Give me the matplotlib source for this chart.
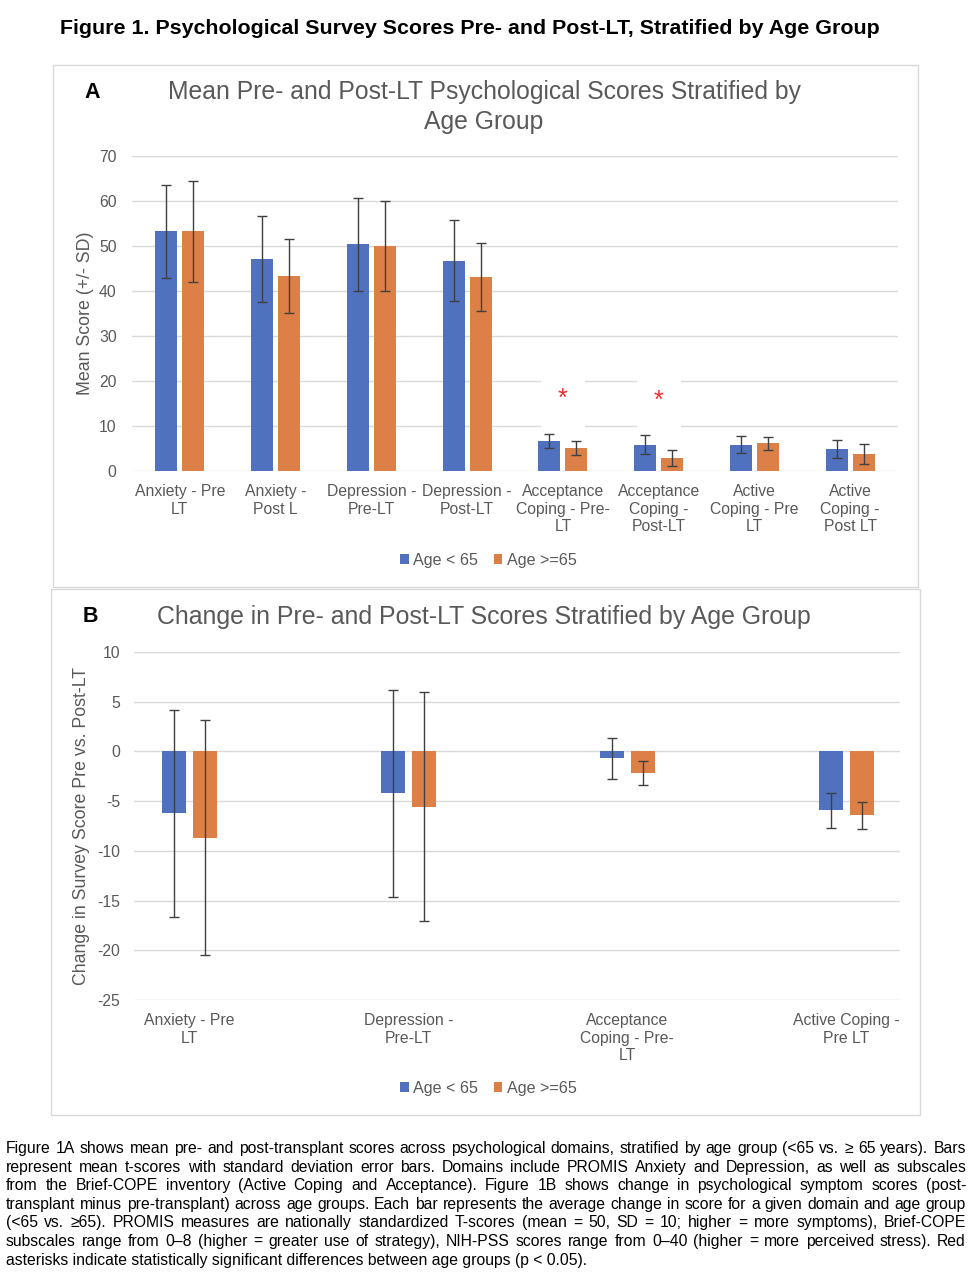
# recreate Figure 1: psychological scores by age group
import matplotlib
matplotlib.use('Agg')
import matplotlib.pyplot as plt
from matplotlib.patches import Rectangle
from matplotlib import font_manager
import numpy as np

plt.rcParams['font.family'] = ['Liberation Sans', 'DejaVu Sans']
plt.rcParams['axes.unicode_minus'] = False

# Panel A data: mean score (+/- SD)
cats_a = ['Anxiety - Pre\nLT', 'Anxiety -\nPost L', 'Depression -\nPre-LT', 'Depression -\nPost-LT',
          'Acceptance\nCoping - Pre-\nLT', 'Acceptance\nCoping -\nPost-LT', 'Active\nCoping - Pre\nLT',
          'Active\nCoping -\nPost LT']
young_mean_a = [53.3, 47.1, 50.4, 46.7, 6.7, 5.8, 5.8, 4.9]
young_sd_a = [10.3, 9.5, 10.3, 9.0, 1.55, 2.1, 1.9, 2.0]
old_mean_a = [53.3, 43.3, 50.0, 43.1, 5.1, 2.9, 6.2, 3.8]
old_sd_a = [11.2, 8.2, 10.0, 7.5, 1.65, 1.8, 1.45, 2.3]

# significant differences (red asterisks)
sig_idx = [4, 5]
sig_y = [16.1, 15.6]

# Panel B data: change pre vs post
cats_b = ['Anxiety - Pre\nLT', 'Depression -\nPre-LT', 'Acceptance\nCoping - Pre-\nLT', 'Active Coping -\nPre LT']
young_chg_b = [-6.24, -4.23, -0.7, -5.94]
young_sd_b = [10.4, 10.4, 2.1, 1.8]
old_chg_b = [-8.66, -5.54, -2.2, -6.44]
old_sd_b = [11.8, 11.5, 1.2, 1.4]

series_names = ['Age < 65', 'Age >=65']

blue = '#4F71BE'
orange = '#DD8047'
gray_txt = '#595959'
grid_col = '#D9D9D9'
err_col = '#404040'

W, H = 976, 1278
fig = plt.figure(figsize=(W / 100, H / 100), dpi=100)


def fx(px):
    return px / W


def fy(py):
    return 1 - py / H


def style_axis(ax, ymin, ymax, step, pad):
    ax.set_ylim(ymin, ymax)
    ax.set_yticks(np.arange(ymin, ymax + step / 2, step))
    ax.yaxis.grid(True, color=grid_col, linewidth=1)
    ax.set_axisbelow(True)
    for s in ax.spines.values():
        s.set_visible(False)
    ax.tick_params(axis='both', length=0, labelsize=11.3, labelcolor=gray_txt)
    ax.tick_params(axis='y', pad=pad)
    ax.tick_params(axis='x', pad=9.5)


# panel borders
fig.add_artist(Rectangle((fx(53), fy(587)), fx(918) - fx(53), fy(65) - fy(587),
                         transform=fig.transFigure, fill=False, edgecolor=grid_col, linewidth=1))
fig.add_artist(Rectangle((fx(51), fy(1115)), fx(920) - fx(51), fy(589) - fy(1115),
                         transform=fig.transFigure, fill=False, edgecolor=grid_col, linewidth=1))

fig.text(fx(470), fy(28), 'Figure 1. Psychological Survey Scores Pre- and Post-LT, Stratified by Age Group',
         ha='center', va='center', fontsize=15.4, fontweight='bold')

# ---- Panel A ----
ax1 = fig.add_axes([fx(132), fy(471), fx(898) - fx(132), fy(156) - fy(471)])
x = np.arange(len(cats_a))
bw, off = 0.23, 0.141
ax1.bar(x - off, young_mean_a, bw, color=blue, label=series_names[0])
ax1.bar(x + off, old_mean_a, bw, color=orange, label=series_names[1])
ax1.errorbar(x - off, young_mean_a, yerr=young_sd_a, fmt='none', ecolor=err_col, elinewidth=1, capsize=3.5, capthick=1)
ax1.errorbar(x + off, old_mean_a, yerr=old_sd_a, fmt='none', ecolor=err_col, elinewidth=1, capsize=3.5, capthick=1)
ax1.set_xlim(-0.5, len(cats_a) - 0.5)
ax1.set_xticks(x)
ax1.set_xticklabels(cats_a, linespacing=1.2)
style_axis(ax1, 0, 70, 10, 11)
ax1.set_ylabel('Mean Score (+/- SD)', fontsize=12.8, color=gray_txt)
ax1.yaxis.set_label_coords(-0.050, 0.5)
for i, yv in zip(sig_idx, sig_y):
    ax1.text(i, yv, '*', ha='center', va='center', fontsize=18, color='#EE2C2C', zorder=4,
             bbox=dict(boxstyle='square,pad=0.68', facecolor='white', edgecolor='none'))

fig.text(fx(484), fy(107), 'Mean Pre- and Post-LT Psychological Scores Stratified by\nAge Group',
         ha='center', va='center', fontsize=17.8, color=gray_txt, linespacing=1.3)
fig.text(fx(92), fy(93), 'A', ha='center', va='center', fontsize=15.5, fontweight='bold')
fig.legend(*ax1.get_legend_handles_labels(), loc='center', bbox_to_anchor=(fx(488), fy(560)), ncol=2,
           frameon=False, fontsize=11.6, labelcolor=gray_txt, handlelength=0.55, handleheight=0.55,
           handletextpad=0.25, columnspacing=1.0)

# ---- Panel B ----
ax2 = fig.add_axes([fx(134), fy(1000), fx(900) - fx(134), fy(652) - fy(1000)])
xb = np.arange(len(cats_b))
bw2, off2 = 0.11, 0.071
ax2.bar(xb - off2, young_chg_b, bw2, color=blue, label=series_names[0])
ax2.bar(xb + off2, old_chg_b, bw2, color=orange, label=series_names[1])
ax2.errorbar(xb - off2, young_chg_b, yerr=young_sd_b, fmt='none', ecolor=err_col, elinewidth=1, capsize=3.5, capthick=1)
ax2.errorbar(xb + off2, old_chg_b, yerr=old_sd_b, fmt='none', ecolor=err_col, elinewidth=1, capsize=3.5, capthick=1)
ax2.set_xlim(-0.253, 3.245)
ax2.set_xticks(xb)
ax2.set_xticklabels(cats_b, linespacing=1.2)
style_axis(ax2, -25, 10, 5, 10)
ax2.set_ylabel('Change in Survey Score Pre vs. Post-LT', fontsize=12.8, color=gray_txt)
ax2.yaxis.set_label_coords(-0.057, 0.5)

fig.text(fx(484), fy(617), 'Change in Pre- and Post-LT Scores Stratified by Age Group',
         ha='center', va='center', fontsize=17.9, color=gray_txt)
fig.text(fx(90), fy(616), 'B', ha='center', va='center', fontsize=15.5, fontweight='bold')
fig.legend(*ax2.get_legend_handles_labels(), loc='center', bbox_to_anchor=(fx(488), fy(1088)), ncol=2,
           frameon=False, fontsize=11.6, labelcolor=gray_txt, handlelength=0.55, handleheight=0.55,
           handletextpad=0.25, columnspacing=1.0)

# ---- caption, justified line by line ----
cap_lines = [
    'Figure 1A shows mean pre- and post-transplant scores across psychological domains, stratified by age group (<65 vs. \u2265 65 years). Bars',
    'represent mean t-scores with standard deviation error bars. Domains include PROMIS Anxiety and Depression, as well as subscales',
    'from the Brief-COPE inventory (Active Coping and Acceptance). Figure 1B shows change in psychological symptom scores (post-',
    'transplant minus pre-transplant) across age groups. Each bar represents the average change in score for a given domain and age group',
    '(<65 vs. \u226565). PROMIS measures are nationally standardized T-scores (mean = 50, SD = 10; higher = more symptoms), Brief-COPE',
    'subscales range from 0\u20138 (higher = greater use of strategy), NIH-PSS scores range from 0\u201340 (higher = more perceived stress). Red',
    'asterisks indicate statistically significant differences between age groups (p < 0.05).',
]
# narrow font if available, else regular
names = set(f.name for f in font_manager.fontManager.ttflist)
cap_family = ['Liberation Sans Narrow', 'DejaVu Sans'] if 'Liberation Sans Narrow' in names else ['Liberation Sans', 'DejaVu Sans']

left_px, right_px = 6, 966
fig.canvas.draw()
rend = fig.canvas.get_renderer()
# size the font so the longest line nearly fills the width
probe = fig.text(0, 0, cap_lines[3], fontsize=12, family=cap_family)
cap_size = 12 * (right_px - left_px - 6) / probe.get_window_extent(rend).width
probe.remove()

for i, line in enumerate(cap_lines):
    ypos = fy(1153 + i * 18.6)  # baseline
    if i == len(cap_lines) - 1:
        fig.text(fx(left_px), ypos, line, ha='left', va='baseline', fontsize=cap_size, family=cap_family)
        continue
    words = line.split(' ')
    texts = [fig.text(0, ypos, w, ha='left', va='baseline', fontsize=cap_size, family=cap_family) for w in words]
    widths = [t.get_window_extent(rend).width for t in texts]
    gap = (right_px - left_px - sum(widths)) / (len(words) - 1)
    xp = left_px
    for t, wd in zip(texts, widths):
        t.set_x(fx(xp))
        xp += wd + gap

fig.savefig('out.png', dpi=100)
